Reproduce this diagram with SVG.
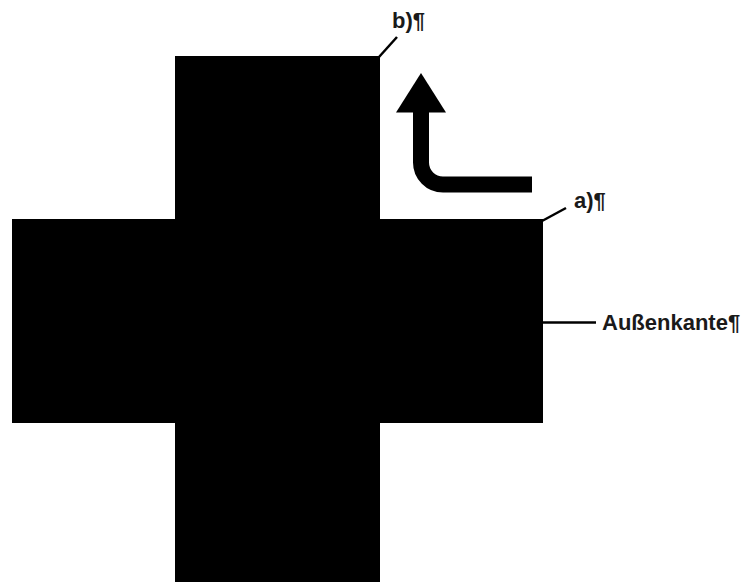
<svg xmlns="http://www.w3.org/2000/svg" width="742" height="582" viewBox="0 0 742 582">
  <style>
    .lbl { font-family: "Liberation Sans", Arial, sans-serif; font-weight: bold; font-size: 22px; fill: #1a1a1a; }
    .lead { stroke: #000; stroke-width: 2.5; fill: none; }
  </style>
  <rect width="742" height="582" fill="#fff"/>
  <g id="cross">
    <path d="M175 56 H380 V219 H543 V423 H380 V582 H175 V423 H12 V219 H175 Z" fill="#000"/>
  </g>
  <g id="arrow">
    <path d="M532 184.5 H443 A22 22 0 0 1 421 162.5 V110" fill="none" stroke="#000" stroke-width="16"/>
    <polygon points="421,73 396,112.5 446,112.5" fill="#000"/>
  </g>
  <g id="connectors">
    <line class="lead" x1="379" y1="57" x2="397" y2="37"/>
    <line class="lead" x1="542" y1="221" x2="566" y2="208"/>
    <line class="lead" x1="543" y1="322.5" x2="596" y2="322.5"/>
  </g>
  <g id="label-b">
    <text class="lbl" x="392" y="28">b)¶</text>
  </g>
  <g id="label-a">
    <text class="lbl" x="574" y="208">a)¶</text>
  </g>
  <g id="label-aussenkante">
    <text class="lbl" x="602" y="330">Außenkante¶</text>
  </g>
</svg>
